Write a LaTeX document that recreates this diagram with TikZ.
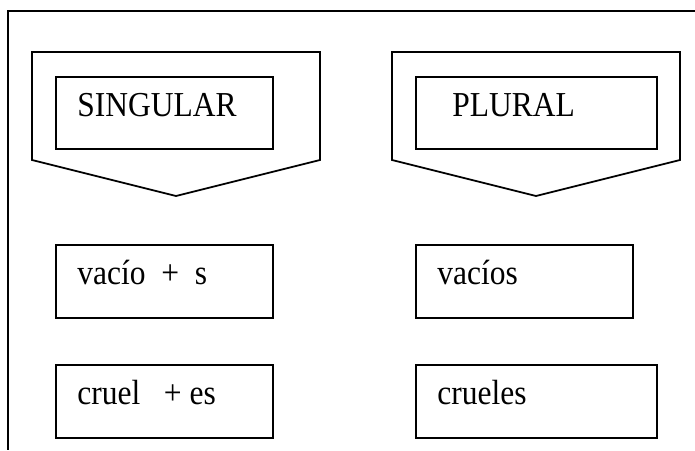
\documentclass[tikz,border=0pt]{standalone}
\usepackage{fontspec}
\setmainfont{Liberation Serif}[FakeStretch=0.9]
\usepackage{tikz}
\usetikzlibrary{positioning}

\tikzset{
  frameline/.style={line width=0.9pt},
  wordbox/.style={draw, line width=0.9pt, inner sep=0pt, anchor=north west, minimum height=36.5pt},
  wordtext/.style={anchor=base west, inner sep=0pt, font=\fontsize{17.5}{19}\selectfont}
}

\begin{document}
\begin{tikzpicture}[x=0.5pt, y=-0.5pt]
          \useasboundingbox (0,0) rectangle (695,450);
          % outer frame, open at right and bottom
          \draw [frameline] (695,11) -- (8,11) -- (8,450);
          % the two arrow-shaped headers
          \draw [frameline] (32,52) -- (320,52) -- (320,160) -- (176,196) -- (32,160) -- cycle;
          \draw [frameline] (392,52) -- (680,52) -- (680,160) -- (536,196) -- (392,160) -- cycle;
          \node [wordbox, minimum width=108.5pt, minimum height=36pt] (sg) at (55,76) {};
          \node [wordbox, minimum width=120.5pt, minimum height=36pt] (pl) at (415,76) {};
          \node [wordtext] (sgtxt) at ([xshift=11pt, yshift=-20pt]sg.north west) {SINGULAR};
          \node [wordtext] (pltxt) at ([xshift=18.5pt, yshift=-20pt]pl.north west) {PLURAL};
          % the words
          \node [wordbox, minimum width=108.5pt] (vs) at (55,244) {};
          \node [wordbox, minimum width=108.5pt] (vp) at (415,244) {};
          \node [wordbox, minimum width=108.5pt] (cs) at (55,364) {};
          \node [wordbox, minimum width=120.5pt] (cp) at (415,364) {};
          \node [wordtext] (vstxt) at ([xshift=11pt, yshift=-20pt]vs.north west) {vacío\ \ +\ \ s};
          \node [wordtext] (vptxt) at ([xshift=11pt, yshift=-20pt]vp.north west) {vacíos};
          \node [wordtext] (cstxt) at ([xshift=11pt, yshift=-20pt]cs.north west) {cruel\ \ \ + es};
          \node [wordtext] (cptxt) at ([xshift=11pt, yshift=-20pt]cp.north west) {crueles};
  \end{tikzpicture}
\end{document}
